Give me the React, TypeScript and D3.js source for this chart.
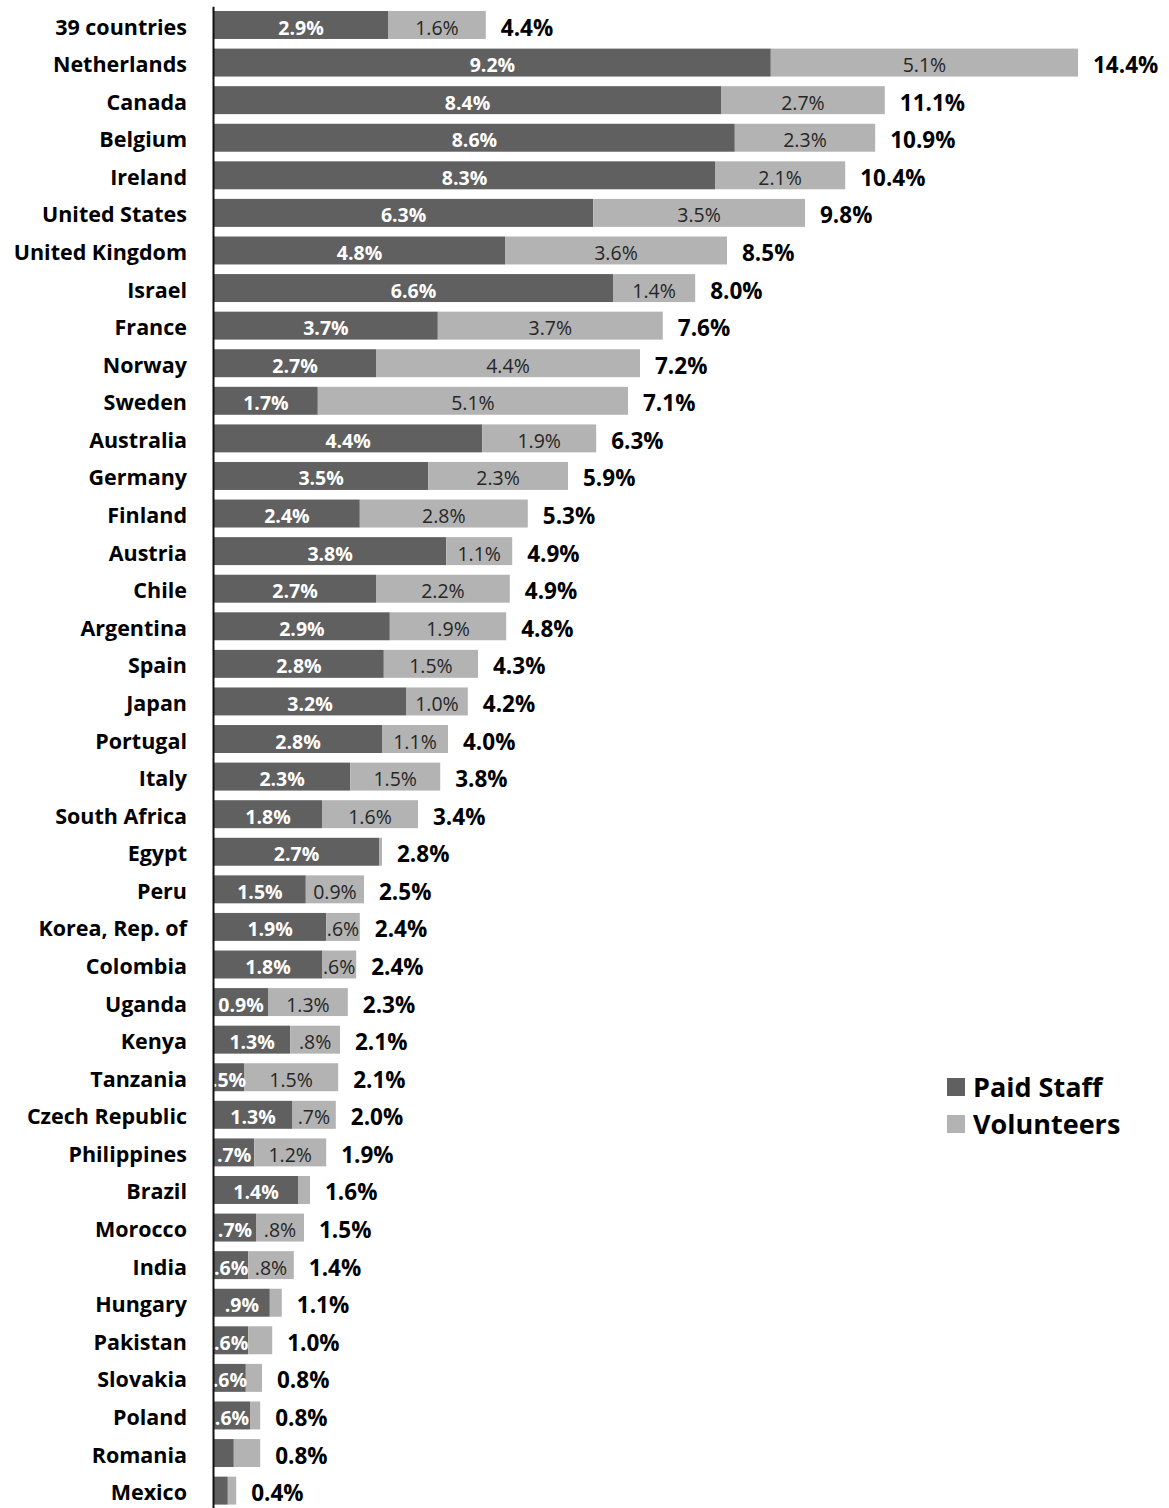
import React, { useEffect, useRef } from 'react';
import * as d3 from 'd3';

const countries = [
  '39 countries', 'Netherlands', 'Canada', 'Belgium', 'Ireland', 'United States', 'United Kingdom',
  'Israel', 'France', 'Norway', 'Sweden', 'Australia', 'Germany', 'Finland', 'Austria', 'Chile',
  'Argentina', 'Spain', 'Japan', 'Portugal', 'Italy', 'South Africa', 'Egypt', 'Peru',
  'Korea, Rep. of', 'Colombia', 'Uganda', 'Kenya', 'Tanzania', 'Czech Republic', 'Philippines',
  'Brazil', 'Morocco', 'India', 'Hungary', 'Pakistan', 'Slovakia', 'Poland', 'Romania', 'Mexico',
];

// bar lengths (share of economically active population, %)
const paidStaff = [
  2.9, 9.28, 8.45, 8.68, 8.35, 6.32, 4.85, 6.65, 3.73, 2.7, 1.73, 4.47, 3.57, 2.43, 3.87, 2.7,
  2.93, 2.83, 3.2, 2.8, 2.27, 1.8, 2.75, 1.53, 1.87, 1.8, 0.9, 1.27, 0.5, 1.3, 0.67,
  1.4, 0.7, 0.57, 0.93, 0.57, 0.53, 0.6, 0.33, 0.23,
];
const volunteers = [
  1.63, 5.12, 2.73, 2.34, 2.17, 3.53, 3.7, 1.37, 3.75, 4.4, 5.17, 1.9, 2.33, 2.8, 1.1, 2.23,
  1.94, 1.57, 1.03, 1.1, 1.5, 1.6, 0.05, 0.97, 0.56, 0.57, 1.33, 0.83, 1.57, 0.73, 1.2,
  0.2, 0.8, 0.76, 0.2, 0.4, 0.27, 0.17, 0.44, 0.14,
];

const paidLabels = [
  '2.9%', '9.2%', '8.4%', '8.6%', '8.3%', '6.3%', '4.8%', '6.6%', '3.7%', '2.7%', '1.7%', '4.4%',
  '3.5%', '2.4%', '3.8%', '2.7%', '2.9%', '2.8%', '3.2%', '2.8%', '2.3%', '1.8%', '2.7%', '1.5%',
  '1.9%', '1.8%', '0.9%', '1.3%', '.5%', '1.3%', '.7%', '1.4%', '.7%', '.6%', '.9%', '.6%',
  '.6%', '.6%', '', '',
];
const volunteerLabels = [
  '1.6%', '5.1%', '2.7%', '2.3%', '2.1%', '3.5%', '3.6%', '1.4%', '3.7%', '4.4%', '5.1%', '1.9%',
  '2.3%', '2.8%', '1.1%', '2.2%', '1.9%', '1.5%', '1.0%', '1.1%', '1.5%', '1.6%', '', '0.9%',
  '.6%', '.6%', '1.3%', '.8%', '1.5%', '.7%', '1.2%', '', '.8%', '.8%', '', '', '', '', '', '',
];
const totalLabels = [
  '4.4%', '14.4%', '11.1%', '10.9%', '10.4%', '9.8%', '8.5%', '8.0%', '7.6%', '7.2%', '7.1%', '6.3%',
  '5.9%', '5.3%', '4.9%', '4.9%', '4.8%', '4.3%', '4.2%', '4.0%', '3.8%', '3.4%', '2.8%', '2.5%',
  '2.4%', '2.4%', '2.3%', '2.1%', '2.1%', '2.0%', '1.9%', '1.6%', '1.5%', '1.4%', '1.1%', '1.0%',
  '0.8%', '0.8%', '0.8%', '0.4%',
];

const seriesNames = ['Paid Staff', 'Volunteers'];
const colors = ['#606060', '#b3b3b3'];

const WIDTH = 1169;
const HEIGHT = 1508;
const FONT = '"Open Sans", Lato, sans-serif';

export default function App() {
  const svgRef = useRef<SVGSVGElement>(null);

  useEffect(() => {
    if (!svgRef.current) return;
    const svg = d3.select(svgRef.current);
    svg.selectAll('*').remove();

    const left = 214;
    const x = d3.scaleLinear().domain([0, 14.4]).range([left, 1078]);
    const step = 37.58;
    const y = d3.scaleBand<string>()
      .domain(countries)
      .range([25 - step / 2, 25 - step / 2 + step * countries.length])
      .paddingInner(0.256)
      .paddingOuter(0.128);

    const rows = countries.map((c, i) => ({
      country: c,
      paid: paidStaff[i],
      vol: volunteers[i],
      paidLabel: paidLabels[i],
      volLabel: volunteerLabels[i],
      total: totalLabels[i],
    }));

    const g = svg.append('g');

    // paid staff segment
    g.selectAll('rect.paid')
      .data(rows)
      .enter()
      .append('rect')
      .attr('class', 'paid')
      .attr('x', x(0))
      .attr('y', d => y(d.country)!)
      .attr('width', d => x(d.paid) - x(0))
      .attr('height', y.bandwidth())
      .attr('fill', colors[0]);

    // volunteers segment
    g.selectAll('rect.vol')
      .data(rows)
      .enter()
      .append('rect')
      .attr('class', 'vol')
      .attr('x', d => x(d.paid))
      .attr('y', d => y(d.country)!)
      .attr('width', d => x(d.paid + d.vol) - x(d.paid))
      .attr('height', y.bandwidth())
      .attr('fill', colors[1]);

    const mid = (d: { country: string }) => y(d.country)! + y.bandwidth() / 2;

    g.selectAll('text.paidlbl')
      .data(rows.filter(d => d.paidLabel))
      .enter()
      .append('text')
      .attr('x', d => (x(0) + x(d.paid)) / 2)
      .attr('y', d => mid(d) + 9.5)
      .attr('text-anchor', 'middle')
      .attr('font-family', FONT)
      .attr('font-weight', 700)
      .attr('font-size', 19.5)
      .attr('fill', '#ffffff')
      .text(d => d.paidLabel);

    g.selectAll('text.vollbl')
      .data(rows.filter(d => d.volLabel))
      .enter()
      .append('text')
      .attr('x', d => (x(d.paid) + x(d.paid + d.vol)) / 2)
      .attr('y', d => mid(d) + 9.5)
      .attr('text-anchor', 'middle')
      .attr('font-family', FONT)
      .attr('font-size', 19.5)
      .attr('fill', '#262626')
      .text(d => d.volLabel);

    g.selectAll('text.total')
      .data(rows)
      .enter()
      .append('text')
      .attr('x', d => x(d.paid + d.vol) + 15)
      .attr('y', d => mid(d) + 10.5)
      .attr('font-family', FONT)
      .attr('font-weight', 700)
      .attr('font-size', 22.5)
      .attr('fill', '#000000')
      .text(d => d.total);

    // category axis
    const axis = svg.append('g')
      .attr('transform', `translate(${left - 1},0)`)
      .call(d3.axisLeft(y).tickSize(0).tickPadding(26));
    axis.select('.domain').attr('stroke', '#111').attr('stroke-width', 2);
    axis.selectAll('text')
      .attr('dy', null)
      .attr('y', 9.5)
      .attr('font-family', FONT)
      .attr('font-weight', 700)
      .attr('font-size', 21.5)
      .attr('fill', '#000');

    // legend
    const legend = svg.append('g').attr('transform', 'translate(947,1087)');
    seriesNames.forEach((name, i) => {
      const lg = legend.append('g').attr('transform', `translate(0,${i * 37})`);
      lg.append('rect').attr('x', 0).attr('y', -9).attr('width', 18).attr('height', 18).attr('fill', colors[i]);
      lg.append('text')
        .attr('x', 26)
        .attr('y', 10)
        .attr('font-family', FONT)
        .attr('font-weight', 700)
        .attr('font-size', 27)
        .attr('fill', '#000')
        .text(name);
    });
  }, []);

  return (
    <svg
      ref={svgRef}
      width={WIDTH}
      height={HEIGHT}
      style={{ position: 'absolute', left: 0, top: 0, background: '#fff' }}
    />
  );
}
